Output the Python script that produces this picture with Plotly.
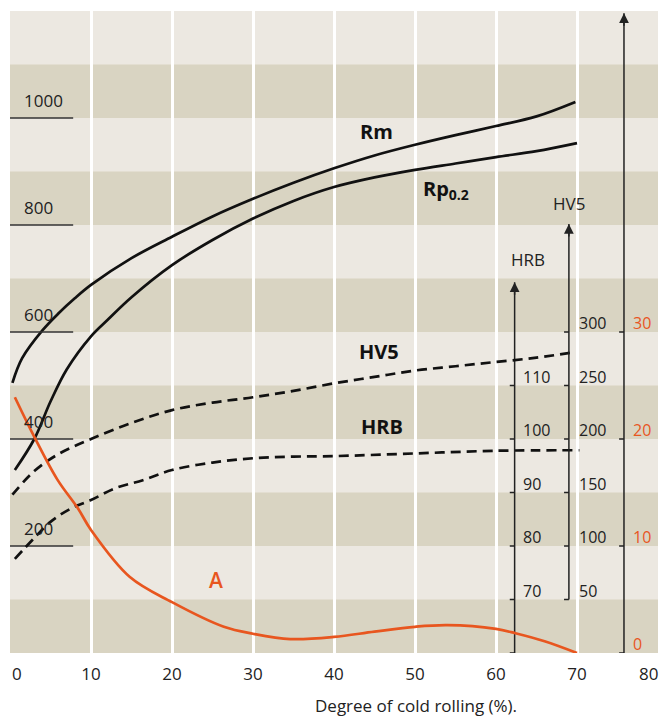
import plotly.graph_objects as go

# ---------------- data ----------------
rm_x = [0.3, 1.5, 4, 6, 8, 10, 15, 20, 25, 30, 35, 40, 45, 50, 55, 60, 65, 69.8]
rm_y = [505, 551, 603, 635, 663, 688, 738, 778, 816, 849, 879, 906, 930, 950, 968, 985, 1003, 1030]

rp_x = [0.6, 3, 5, 7, 10, 12, 15, 20, 25, 30, 35, 40, 45, 50, 55, 60, 65, 70]
rp_y = [342, 400, 470, 530, 592, 622, 665, 725, 772, 812, 845, 871, 889, 903, 915, 927, 938, 953]

hv5_x = [0.3, 3, 6, 10, 15, 20, 25, 30, 35, 40, 45, 50, 55, 60, 65, 69.5]
hv5_y = [148, 170, 186, 200, 215, 227, 234, 239, 245, 252, 258, 264, 268, 272, 276, 281]

hrb_x = [0.6, 3, 5, 7.5, 10, 13, 16.4, 20, 25, 30, 35, 40, 50, 60, 70.3]
hrb_y = [77.6, 81.5, 84.5, 87, 88.6, 90.8, 92.3, 94.2, 95.6, 96.4, 96.7, 96.8, 97.3, 97.8, 97.9]

a_x = [0.6, 3.0, 5.85, 8.4, 10, 14.8, 20, 26.4, 30, 34.6, 40, 45, 50, 54, 60, 62.4, 66, 70]
a_y = [23.9, 20.2, 16.2, 13.5, 11.5, 7.1, 4.75, 2.45, 1.8, 1.3, 1.5, 2.0, 2.45, 2.6, 2.25, 1.85, 1.1, 0]

x_grid = [10, 20, 30, 40, 50, 60, 70]
x_tick_labels = ["10", "20", "30", "40", "50", "60", "70"]
stress_ticks = [200, 400, 600, 800, 1000]
hrb_ticks = [60, 70, 80, 90, 100, 110]
hrb_tick_labels = ["", "70", "80", "90", "100", "110"]
hv_ticks = [50, 100, 150, 200, 250, 300]
hv_tick_labels = ["50", "100", "150", "200", "250", "300"]
a_ticks = [0, 10, 20, 30]
a_tick_labels = ["0", "10", "20", "30"]

# ---------------- style ----------------
FONT = "Open Sans"
TXT = "#222222"
ORANGE = "#E8561F"
LIGHT = "#ECE8E1"
DARK = "#D9D4C2"
HRB_X, HRB_TOP = 62.3, 129.3
HV_X, HV_TOP = 69.0, 401
A_X, A_TOP = 75.8, 59.8
TL = 0.6

fig = go.Figure()

# curves
fig.add_trace(go.Scatter(x=rm_x, y=rm_y, mode="lines", line=dict(color="#111", width=2.7, shape="spline"), yaxis="y"))
fig.add_trace(go.Scatter(x=rp_x, y=rp_y, mode="lines", line=dict(color="#111", width=2.7, shape="spline"), yaxis="y"))
fig.add_trace(go.Scatter(x=hv5_x, y=hv5_y, mode="lines", line=dict(color="#111", width=2.7, shape="spline", dash="10px,6px"), yaxis="y3"))
fig.add_trace(go.Scatter(x=hrb_x, y=hrb_y, mode="lines", line=dict(color="#111", width=2.7, shape="spline", dash="10px,6px"), yaxis="y2"))
fig.add_trace(go.Scatter(x=a_x, y=a_y, mode="lines", line=dict(color=ORANGE, width=2.7, shape="spline"), yaxis="y4"))

# stress tick lines
sx, sy = [], []
for t in stress_ticks:
    sx += [0, 7.8, None]
    sy += [t, t, None]
fig.add_trace(go.Scatter(x=sx, y=sy, mode="lines", line=dict(color="#333", width=1.5), yaxis="y"))


def side_axis(xpos, ticks, top, yname):
    fig.add_trace(go.Scatter(x=[xpos, xpos], y=[ticks[0], top], mode="lines",
                             line=dict(color="#222", width=1.5), yaxis=yname))
    tx, ty = [], []
    for t in ticks:
        tx += [xpos - TL, xpos, None]
        ty += [t, t, None]
    fig.add_trace(go.Scatter(x=tx, y=ty, mode="lines", line=dict(color="#222", width=1.5), yaxis=yname))


side_axis(HRB_X, hrb_ticks, HRB_TOP, "y2")
side_axis(HV_X, hv_ticks, HV_TOP, "y3")
side_axis(A_X, a_ticks, A_TOP, "y4")

annotations = []
for xpos, top, yr in [(HRB_X, HRB_TOP, "y2"), (HV_X, HV_TOP, "y3"), (A_X, A_TOP, "y4")]:
    annotations.append(dict(x=xpos, y=top, xref="x", yref=yr, text="", showarrow=True,
                            ax=0, ay=14, arrowhead=2, arrowsize=1.3, arrowwidth=1.5, arrowcolor="#222"))

for t in stress_ticks:
    annotations.append(dict(x=1.5, y=t, xref="x", yref="y", text=str(t), showarrow=False,
                            xanchor="left", yanchor="bottom", yshift=4, font=dict(family=FONT, size=17, color=TXT)))

for t, lab in zip(hrb_ticks, hrb_tick_labels):
    if lab:
        annotations.append(dict(x=HRB_X + 0.8, y=t, xref="x", yref="y2", text=lab, showarrow=False,
                                xanchor="left", yanchor="bottom", yshift=-4, font=dict(family=FONT, size=16, color=TXT)))
for t, lab in zip(hv_ticks, hv_tick_labels):
    annotations.append(dict(x=HV_X + 1.0, y=t, xref="x", yref="y3", text=lab, showarrow=False,
                            xanchor="left", yanchor="bottom", yshift=-4, font=dict(family=FONT, size=16, color=TXT)))
for t, lab in zip(a_ticks, a_tick_labels):
    annotations.append(dict(x=A_X + 0.9, y=t, xref="x", yref="y4", text=lab, showarrow=False,
                            xanchor="left", yanchor="bottom", yshift=-4, font=dict(family=FONT, size=16, color=ORANGE)))

annotations += [
    dict(x=HRB_X + 1.7, y=133.5, xref="x", yref="y2", text="HRB", showarrow=False, font=dict(family=FONT, size=17, color=TXT)),
    dict(x=HV_X, y=420, xref="x", yref="y3", text="HV5", showarrow=False, font=dict(family=FONT, size=17, color=TXT)),
    dict(x=45.2, y=974, xref="x", yref="y", text="<b>Rm</b>", showarrow=False, font=dict(family=FONT, size=20, color="#111")),
    dict(x=53.8, y=866, xref="x", yref="y", text="<b>Rp<sub>0.2</sub></b>", showarrow=False, font=dict(family=FONT, size=20, color="#111")),
    dict(x=45.5, y=563, xref="x", yref="y", text="<b>HV5</b>", showarrow=False, font=dict(family=FONT, size=20, color="#111")),
    dict(x=45.9, y=424, xref="x", yref="y", text="<b>HRB</b>", showarrow=False, font=dict(family=FONT, size=20, color="#111")),
    dict(x=25.4, y=6.8, xref="x", yref="y4", text="A", showarrow=False,
         font=dict(family=FONT, size=21, color=ORANGE, weight=600)),
    dict(x=0.9, y=0, xref="x", yref="paper", text="0", showarrow=False, yanchor="top", yshift=-7,
         font=dict(family=FONT, size=17, color=TXT)),
    dict(x=78.8, y=0, xref="x", yref="paper", text="80", showarrow=False, yanchor="top", yshift=-7,
         font=dict(family=FONT, size=17, color=TXT)),
    dict(x=0.627, y=0, xref="paper", yref="paper", text="Degree of cold rolling (%).", showarrow=False,
         yanchor="middle", yshift=-52, font=dict(family=FONT, size=17, color=TXT)),
]

shapes = []
for k in range(0, 1200, 200):
    shapes.append(dict(type="rect", xref="paper", yref="y", x0=0, x1=1, y0=k, y1=k + 100,
                       fillcolor=DARK, line=dict(width=0), layer="below"))

fig.update_layout(
    width=664, height=712,
    margin=dict(l=2, r=14, t=3, b=67),
    paper_bgcolor="white", plot_bgcolor=LIGHT,
    showlegend=False,
    shapes=shapes, annotations=annotations,
    xaxis=dict(range=[0, 80], tickvals=x_grid, ticktext=x_tick_labels, showgrid=True, gridcolor="white",
               gridwidth=3, zeroline=False, showline=False, ticks="outside", ticklen=6,
               tickcolor="rgba(0,0,0,0)", tickfont=dict(family=FONT, size=17, color=TXT)),
    yaxis=dict(range=[0, 1200], visible=False, showgrid=False, zeroline=False),
    yaxis2=dict(range=[60, 180], overlaying="y", visible=False, showgrid=False, zeroline=False),
    yaxis3=dict(range=[0, 600], overlaying="y", visible=False, showgrid=False, zeroline=False),
    yaxis4=dict(range=[0, 60], overlaying="y", visible=False, showgrid=False, zeroline=False),
)

fig.write_html("out.html")
